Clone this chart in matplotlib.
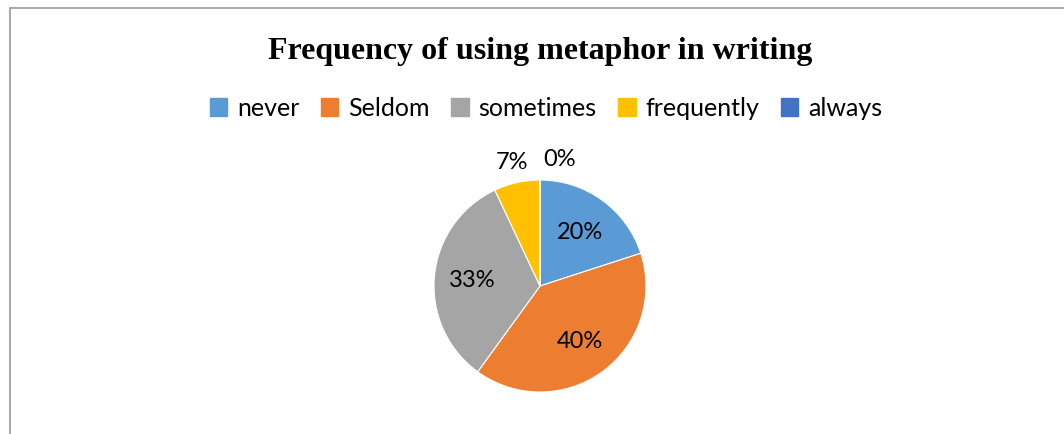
import numpy as np
import matplotlib.pyplot as plt
from matplotlib.patches import Rectangle

categories = ['never', 'Seldom', 'sometimes', 'frequently', 'always']
values = [20, 40, 33, 7, 0]
colors = ['#5B9BD5', '#ED7D31', '#A5A5A5', '#FFC000', '#4472C4']
title = 'Frequency of using metaphor in writing'

W, H = 1064, 435
fig = plt.figure(figsize=(W / 100, H / 100), dpi=100)

# chart border (right and bottom edges run off the picture)
fig.patches.append(Rectangle((9.5 / W, -0.1), 1.2, 1 - 8.5 / H + 0.1,
                             transform=fig.transFigure, fill=False,
                             edgecolor='#A0A0A0', linewidth=1.3))

fig.text(540 / W, 1 - 51 / H, title, ha='center', va='center',
         family='Liberation Serif', fontweight='bold', fontsize=23)

# pie
cx, cy, r = 540, 287, 106
ax = fig.add_axes([(cx - r) / W, (H - cy - r) / H, 2 * r / W, 2 * r / H])
wedges, _ = ax.pie(values, colors=colors, startangle=90, counterclock=False,
                   wedgeprops=dict(edgecolor='white', linewidth=0.8))
ax.set_xlim(-1, 1)
ax.set_ylim(-1, 1)

total = sum(values)
for w, v in zip(wedges, values):
    ang = np.deg2rad((w.theta1 + w.theta2) / 2)
    dist = 0.64 if v >= 10 else 1.2
    x, y = dist * np.cos(ang), dist * np.sin(ang)
    if v == 0:
        x += 0.18
    ax.text(x, y, f'{round(100 * v / total)}%', ha='center', va='center',
            family='Lato', fontsize=17, color='#000000', clip_on=False)

handles = [Rectangle((0, 0), 1, 1, color=c) for c in colors]
fig.legend(handles, categories, loc='center', bbox_to_anchor=(546 / W, 1 - 109 / H),
           ncol=5, frameon=False, prop=dict(family='Lato', size=18),
           handlelength=0.7, handleheight=0.7, handletextpad=0.4,
           columnspacing=0.85)

fig.savefig('out.png', dpi=100, facecolor='white')
